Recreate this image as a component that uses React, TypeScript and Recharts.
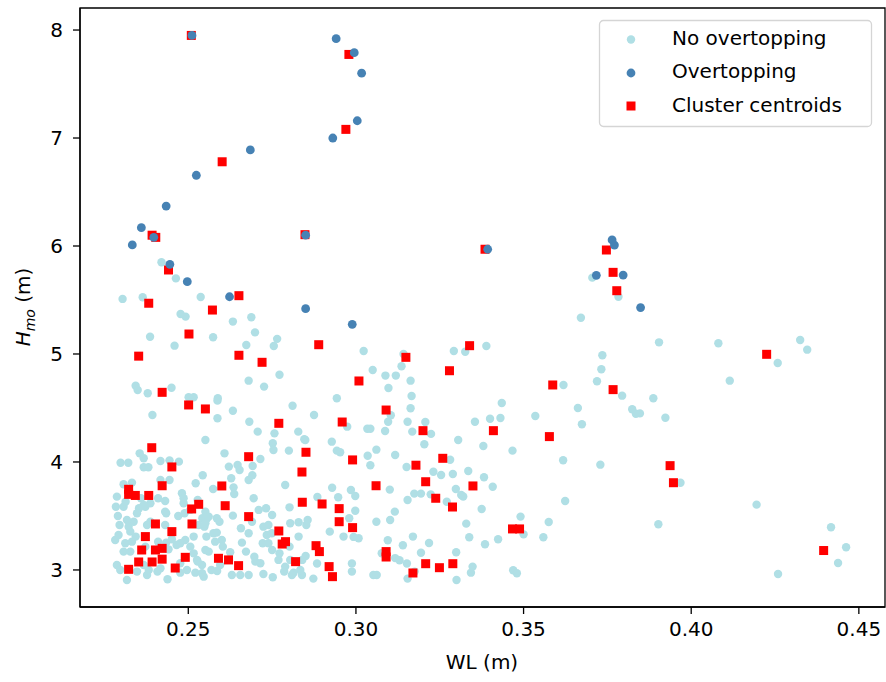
import { ScatterChart, Scatter, XAxis, YAxis, ReferenceArea, Label } from 'recharts';

// [WL (m), Hmo (m)]
const noOvertopping: [number, number][] = [
  [0.2420, 5.85], [0.2463, 5.70], [0.2304, 5.51], [0.2364, 5.525], [0.2537, 5.528], [0.2477, 5.37], [0.2492, 5.346],
  [0.2633, 5.30], [0.2688, 5.34], [0.2386, 5.16], [0.2574, 5.155], [0.2699, 5.20], [0.2765, 5.14], [0.2755, 5.074],
  [0.2459, 5.077], [0.2673, 5.083], [0.3023, 5.028], [0.3050, 4.852], [0.2772, 4.808], [0.2680, 4.753], [0.2726, 4.698],
  [0.2343, 4.706], [0.2349, 4.667], [0.2379, 4.636], [0.2450, 4.688], [0.2501, 4.60], [0.2516, 4.60], [0.2588, 4.59],
  [0.2943, 4.59],
  [0.3705, 5.707], [0.3783, 5.53], [0.3671, 5.336], [0.3142, 5.0], [0.3292, 5.028], [0.3326, 5.021], [0.3389, 5.074],
  [0.3088, 4.80], [0.3119, 4.80], [0.3136, 4.886], [0.3097, 4.685], [0.3163, 4.753], [0.3166, 4.611], [0.3619, 4.713],
  [0.3735, 4.988], [0.3732, 4.858], [0.3719, 4.747], [0.3794, 4.614],
  [0.3904, 5.108], [0.4081, 5.10], [0.4325, 5.13], [0.4346, 5.04], [0.4258, 4.917], [0.4115, 4.753], [0.3887, 4.59],
  [0.3847, 4.45], [0.3923, 4.41], [0.3968, 3.808], [0.4195, 3.605], [0.3902, 3.423], [0.4417, 3.395], [0.4462, 3.21],
  [0.4438, 3.065], [0.4259, 2.963],
  [0.3435, 4.546], [0.3400, 4.40], [0.3431, 4.407], [0.3535, 4.426], [0.3662, 4.50], [0.3674, 4.349], [0.3824, 4.488],
  [0.3835, 4.447], [0.3467, 4.105], [0.3618, 4.016], [0.3729, 3.975], [0.3408, 3.771], [0.3624, 3.639], [0.3491, 3.494],
  [0.3575, 3.444], [0.3500, 3.33], [0.3424, 3.284], [0.3559, 3.303], [0.3469, 2.997], [0.3480, 2.97],
  [0.2875, 4.435], [0.2974, 4.327], [0.3034, 4.308], [0.3043, 4.308], [0.3096, 4.373], [0.3104, 4.432], [0.3087, 4.287],
  [0.3163, 4.497], [0.3154, 4.373], [0.3168, 4.281], [0.3207, 4.37], [0.3224, 4.26], [0.3204, 4.164], [0.3305, 4.204],
  [0.3355, 4.373], [0.3380, 4.148], [0.2849, 4.204], [0.2928, 4.188], [0.2943, 4.105], [0.2953, 4.09], [0.3035, 4.058],
  [0.3061, 4.114], [0.3043, 3.97], [0.3117, 4.065], [0.3151, 3.954], [0.3281, 4.02], [0.3231, 3.91], [0.3254, 3.88],
  [0.3289, 3.889], [0.3335, 3.917], [0.3382, 3.858], [0.3298, 3.75], [0.3314, 3.694], [0.3320, 3.68], [0.3101, 3.744],
  [0.2985, 3.74], [0.2998, 3.685], [0.2929, 3.762], [0.2885, 3.676], [0.2947, 3.673], [0.3154, 3.648], [0.3174, 3.707],
  [0.3194, 3.707], [0.3223, 3.70], [0.3271, 3.632], [0.3329, 3.429], [0.3375, 3.565], [0.3338, 3.303], [0.3385, 3.238],
  [0.2980, 3.479], [0.2998, 3.549], [0.3061, 3.447], [0.3102, 3.463], [0.3116, 3.54], [0.2922, 3.355], [0.2963, 3.309],
  [0.2993, 3.306], [0.3008, 3.294], [0.3095, 3.275], [0.3140, 3.229], [0.3170, 3.309], [0.3218, 3.25], [0.3194, 3.16],
  [0.3299, 3.164], [0.2850, 3.13], [0.2884, 3.06], [0.2873, 2.92], [0.2988, 3.06], [0.2988, 2.985], [0.3052, 2.954],
  [0.3062, 2.954], [0.3117, 3.11], [0.3130, 3.09], [0.3152, 3.06], [0.3154, 2.92], [0.3175, 2.985], [0.3300, 2.907],
  [0.3348, 3.031], [0.3343, 2.975], [0.3077, 3.155],
  [0.2587, 4.568], [0.2633, 4.475], [0.2587, 4.405], [0.2393, 4.435], [0.2682, 4.373], [0.2707, 4.281], [0.2811, 4.521],
  [0.2757, 4.265], [0.2828, 4.281], [0.2846, 4.21], [0.2752, 4.173], [0.2754, 4.111], [0.2800, 4.105], [0.2551, 4.204],
  [0.2608, 4.08], [0.2715, 4.028], [0.2692, 3.963], [0.2680, 3.833], [0.2691, 3.877], [0.2628, 3.849], [0.2635, 3.765],
  [0.2637, 3.704], [0.2621, 3.957], [0.2647, 3.972], [0.2653, 3.926], [0.2574, 3.75], [0.2522, 3.803], [0.2543, 3.877],
  [0.2355, 4.08], [0.2367, 4.034], [0.2417, 4.009], [0.2444, 4.015], [0.2472, 4.003], [0.2298, 3.993], [0.2321, 3.993],
  [0.2367, 3.951], [0.2381, 3.951], [0.2417, 3.833], [0.2444, 3.833], [0.2332, 3.809], [0.2307, 3.794], [0.2481, 3.71],
  [0.2486, 3.664], [0.2410, 3.664], [0.2431, 3.639], [0.2287, 3.679], [0.2284, 3.586], [0.2307, 3.586], [0.2353, 3.571],
  [0.2372, 3.586], [0.2387, 3.617], [0.2528, 3.648], [0.2506, 3.556], [0.2470, 3.50], [0.2489, 3.525], [0.2434, 3.525],
  [0.2347, 3.525], [0.2290, 3.50], [0.2295, 3.417], [0.2322, 3.401], [0.2337, 3.447], [0.2387, 3.447], [0.2431, 3.417],
  [0.2542, 3.479], [0.2556, 3.479], [0.2548, 3.401], [0.2585, 3.479], [0.2593, 3.447], [0.2633, 3.503], [0.2695, 3.664],
  [0.2710, 3.556], [0.2732, 3.571], [0.2750, 3.509], [0.2724, 3.401], [0.2739, 3.417], [0.2690, 3.447], [0.2657, 3.386],
  [0.2680, 3.34], [0.2585, 3.346], [0.2575, 3.34], [0.2554, 3.309], [0.2516, 3.309], [0.2491, 3.278], [0.2451, 3.284],
  [0.2434, 3.253], [0.2476, 3.247], [0.2282, 3.278], [0.2312, 3.247], [0.2332, 3.262], [0.2307, 3.17], [0.2327, 3.17],
  [0.2372, 3.216], [0.2441, 3.191], [0.2506, 3.216], [0.2516, 3.154], [0.2551, 3.185], [0.2561, 3.17], [0.2600, 3.278],
  [0.2603, 3.216], [0.2625, 3.164], [0.2660, 3.253], [0.2672, 3.17], [0.2697, 3.123], [0.2700, 3.077], [0.2722, 3.247],
  [0.2739, 3.247], [0.2750, 3.185], [0.2769, 3.093], [0.2772, 3.154], [0.2802, 3.216], [0.2786, 2.985], [0.2814, 2.975],
  [0.2839, 2.954], [0.2804, 3.093], [0.2840, 3.093], [0.2829, 3.309], [0.2804, 3.432], [0.2829, 3.442], [0.2852, 3.417],
  [0.2802, 3.58], [0.2856, 3.463], [0.2287, 3.046], [0.2297, 3.0], [0.2317, 2.907], [0.2347, 2.985], [0.2377, 2.954],
  [0.2408, 2.985], [0.2438, 2.914], [0.2417, 3.015], [0.2476, 2.975], [0.2496, 3.0], [0.2521, 2.975], [0.2541, 2.969],
  [0.2569, 3.0], [0.2630, 2.954], [0.2680, 2.954], [0.2724, 2.963], [0.2752, 2.932], [0.2715, 3.062], [0.2528, 3.077],
  [0.2476, 3.062], [0.2367, 3.046], [0.2382, 3.0], [0.2595, 3.046], [0.2586, 2.99],
  [0.2789, 3.787], [0.2313, 3.632], [0.2359, 3.664], [0.2367, 3.602], [0.2431, 3.54], [0.2486, 3.617], [0.2551, 3.54],
  [0.2561, 3.494], [0.2317, 3.463], [0.2327, 3.355], [0.2292, 3.324], [0.2377, 3.417], [0.2531, 3.417], [0.2551, 3.432],
  [0.2734, 3.324], [0.2343, 3.309], [0.2410, 3.262], [0.2465, 3.231], [0.2580, 3.262], [0.2749, 3.34], [0.2526, 3.093],
  [0.2541, 3.046], [0.2546, 2.938], [0.2655, 2.954], [0.2789, 3.031], [0.2809, 2.954], [0.2834, 3.0],
];

const overtopping: [number, number][] = [
  [0.2511, 7.95], [0.2941, 7.92], [0.2995, 7.79], [0.3017, 7.60], [0.3004, 7.16], [0.2931, 7.00], [0.2685, 6.89],
  [0.2524, 6.655], [0.2434, 6.37], [0.2360, 6.17], [0.2397, 6.08], [0.2333, 6.01], [0.2445, 5.83], [0.2497, 5.67],
  [0.2850, 6.10], [0.2623, 5.53], [0.2850, 5.42], [0.2989, 5.275], [0.3393, 5.97], [0.3764, 6.056], [0.3771, 6.009],
  [0.3717, 5.728], [0.3797, 5.731], [0.3849, 5.43],
];

const centroids: [number, number][] = [
  [0.2509, 7.95], [0.2979, 7.774], [0.2970, 7.08], [0.2601, 6.78], [0.2392, 6.10], [0.2403, 6.08], [0.2441, 5.778],
  [0.2848, 6.105], [0.2382, 5.47], [0.2651, 5.54], [0.2572, 5.407], [0.2502, 5.185], [0.2352, 4.98], [0.2651, 4.988],
  [0.2720, 4.923], [0.2889, 5.086], [0.3009, 4.75], [0.2422, 4.645], [0.3385, 5.97], [0.3747, 5.963], [0.3767, 5.756],
  [0.3778, 5.586], [0.3149, 4.969], [0.3339, 5.077], [0.3279, 4.845], [0.3587, 4.713], [0.3767, 4.67], [0.4225, 4.997],
  [0.3937, 3.966], [0.3947, 3.808], [0.4395, 3.18], [0.3410, 4.29], [0.3577, 4.235], [0.3467, 3.38], [0.3488, 3.38],
  [0.2959, 4.37], [0.3090, 4.481], [0.3200, 4.29], [0.2851, 4.09], [0.2990, 4.019], [0.3179, 3.97], [0.3259, 4.034],
  [0.3208, 3.817], [0.3349, 3.778], [0.3060, 3.78], [0.2899, 3.611], [0.2950, 3.568], [0.3238, 3.664], [0.3288, 3.583],
  [0.2950, 3.447], [0.2990, 3.392], [0.3090, 3.17], [0.3090, 3.12], [0.2881, 3.225], [0.2891, 3.17], [0.2920, 3.031],
  [0.2930, 2.938], [0.3208, 3.058], [0.3249, 3.021], [0.3289, 3.058], [0.3170, 2.972], [0.2501, 4.528], [0.2551, 4.491],
  [0.2770, 4.358], [0.2391, 4.132], [0.2680, 4.049], [0.2451, 3.954], [0.2839, 3.907], [0.2422, 3.78], [0.2600, 3.778],
  [0.2322, 3.747], [0.2322, 3.70], [0.2342, 3.69], [0.2382, 3.69], [0.2610, 3.595], [0.2840, 3.627], [0.2510, 3.565],
  [0.2531, 3.608], [0.2680, 3.494], [0.2511, 3.426], [0.2402, 3.426], [0.2451, 3.355], [0.2372, 3.309], [0.2770, 3.361],
  [0.2780, 3.24], [0.2790, 3.262], [0.2361, 3.185], [0.2402, 3.185], [0.2422, 3.20], [0.2422, 3.10], [0.2392, 3.074],
  [0.2352, 3.074], [0.2491, 3.117], [0.2322, 3.006], [0.2461, 3.018], [0.2590, 3.108], [0.2620, 3.093], [0.2650, 3.04],
  [0.2820, 3.077],
];

const xTicks = [0.25, 0.3, 0.35, 0.4, 0.45];
const yTicks = [3, 4, 5, 6, 7, 8];
const legendItems = ['No overtopping', 'Overtopping', 'Cluster centroids'];

const LIGHT = '#b0dfe5';
const DARK = '#4682b4';
const RED = '#ff0000';
const FONT = 'DejaVu Sans, sans-serif';

const toRows = (pts: [number, number][]) => pts.map(([wl, hmo]) => ({ wl, hmo }));

const Dot = (color: string, r: number) => (props: any) => (
  <circle cx={props.cx} cy={props.cy} r={r} fill={color} />
);
const Square = (props: any) => (
  <rect x={props.cx - 4.5} y={props.cy - 4.5} width={9} height={9} fill={RED} />
);

export default function App() {
  const tickStyle = { fill: '#000', fontSize: 20, fontFamily: FONT };
  return (
    <div style={{ position: 'absolute', left: 0, top: 0, width: 886, height: 682, background: '#fff' }}>
      <ScatterChart width={886} height={682} margin={{ top: 8, right: 1, bottom: 0, left: 0 }}>
        <XAxis
          type="number"
          dataKey="wl"
          domain={[0.2177, 0.4578]}
          ticks={xTicks}
          allowDataOverflow
          height={75}
          tickFormatter={(v: number) => v.toFixed(2)}
          tick={tickStyle}
          tickSize={7}
          tickMargin={8}
          stroke="#000"
          strokeWidth={1.3}
        >
          <Label
            content={() => (
              <text x={482} y={669} textAnchor="middle" fontSize={20} fontFamily={FONT} fill="#000">
                WL (m)
              </text>
            )}
          />
        </XAxis>
        <YAxis
          type="number"
          dataKey="hmo"
          domain={[2.657, 8.204]}
          ticks={yTicks}
          allowDataOverflow
          width={80}
          tick={tickStyle}
          tickSize={7}
          tickMargin={10}
          stroke="#000"
          strokeWidth={1.3}
        >
          <Label
            content={() => (
              <text
                transform="translate(30,307) rotate(-90)"
                textAnchor="middle"
                fontSize={20}
                fontFamily={FONT}
                fill="#000"
              >
                <tspan fontStyle="italic">H</tspan>
                <tspan fontStyle="italic" fontSize={14} dy={5}>mo</tspan>
                <tspan dy={-5}> (m)</tspan>
              </text>
            )}
          />
        </YAxis>
        <ReferenceArea
          x1={0.2177}
          x2={0.4578}
          y1={2.657}
          y2={8.204}
          fill="none"
          stroke="#000"
          strokeWidth={1.3}
          ifOverflow="extendDomain"
        />
        <Scatter data={toRows(noOvertopping)} shape={Dot(LIGHT, 4.2)} isAnimationActive={false} />
        <Scatter data={toRows(centroids)} shape={Square} isAnimationActive={false} />
        <Scatter data={toRows(overtopping)} shape={Dot(DARK, 4.4)} isAnimationActive={false} />
      </ScatterChart>
      <svg
        width={276}
        height={110}
        style={{ position: 'absolute', left: 598, top: 19 }}
      >
        <rect x={1.5} y={1.5} width={272} height={106} rx={4} fill="rgba(255,255,255,0.8)" stroke="#d5d5d5" strokeWidth={1.3} />
        <circle cx={33} cy={20.5} r={4.2} fill={LIGHT} />
        <circle cx={33} cy={54} r={4.4} fill={DARK} />
        <rect x={28.5} y={82.5} width={9} height={9} fill={RED} />
        {legendItems.map((t, i) => (
          <text key={t} x={74} y={26 + i * 33.4} fontSize={20} fontFamily={FONT} fill="#000">
            {t}
          </text>
        ))}
      </svg>
    </div>
  );
}
